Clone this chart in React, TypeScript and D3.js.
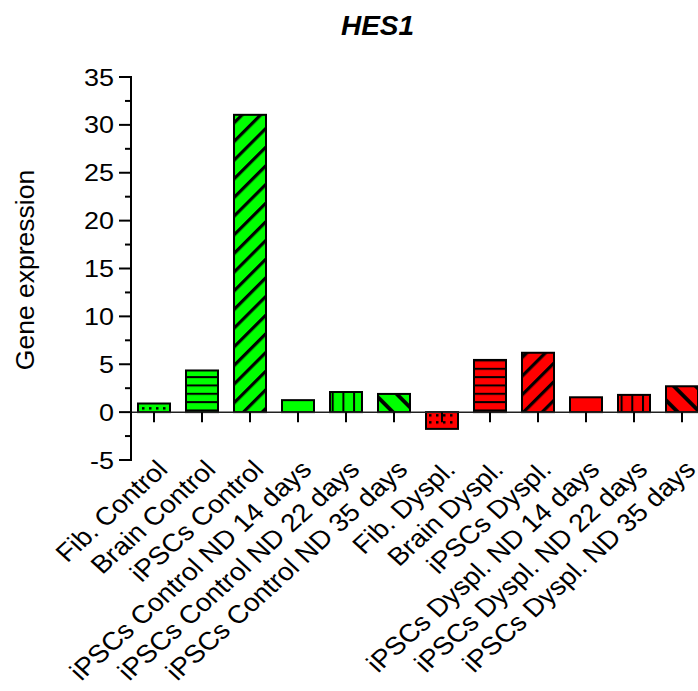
import React from "react";
import * as d3 from "d3";

const categories = [
  "Fib. Control",
  "Brain Control",
  "iPSCs Control",
  "iPSCs Control ND 14 days",
  "iPSCs Control ND 22 days",
  "iPSCs Control ND 35 days",
  "Fib. Dyspl.",
  "Brain Dyspl.",
  "iPSCs Dyspl.",
  "iPSCs Dyspl. ND 14 days",
  "iPSCs Dyspl. ND 22 days",
  "iPSCs Dyspl. ND 35 days",
];
const values = [0.9, 4.35, 31.05, 1.25, 2.1, 1.9, -1.75, 5.45, 6.2, 1.55, 1.8, 2.7];
const groups = ["control", "control", "control", "control", "control", "control", "dyspl", "dyspl", "dyspl", "dyspl", "dyspl", "dyspl"];
const patternKinds = ["dots", "hlines", "diagUp", "none", "vlines", "diagDown", "dots", "hlines", "diagUp", "none", "vlines", "diagDown"];
const majorTicks = [-5, 0, 5, 10, 15, 20, 25, 30, 35];
const minorTicks = [-2.5, 2.5, 7.5, 12.5, 17.5, 22.5, 27.5, 32.5];
const title = "HES1";
const yLabel = "Gene expression";

const groupColor: Record<string, string> = { control: "#00FF00", dyspl: "#FF0000" };
const FONT = "'Liberation Sans', Arial, Helvetica, sans-serif";
const SX = 1.1;

export default function App() {
  const x = d3.scaleBand<string>().domain(categories).range([130, 706]).paddingInner(1 / 3).paddingOuter(1 / 6);
  const y = d3.scaleLinear().domain([-5, 35]).range([460, 77]);
  const y0 = y(0);
  const axisX = 131;

  return (
    <svg width={698} height={691} style={{ position: "absolute", left: 0, top: 0, background: "#fff" }} fontFamily={FONT}>
      <defs>
        <pattern id="p-dots" patternUnits="userSpaceOnUse" width={7} height={7} x={0} y={y0}>
          <rect x={2} y={2} width={2.5} height={2.5} fill="#000" />
        </pattern>
        <pattern id="p-hlines" patternUnits="userSpaceOnUse" width={10} height={8.33} x={0} y={y0 - 11}>
          <rect x={0} y={0} width={10} height={2} fill="#000" />
        </pattern>
        <pattern id="p-vlines" patternUnits="userSpaceOnUse" width={10.7} height={10} x={0} y={0}>
          <rect x={0} y={0} width={2} height={10} fill="#000" />
        </pattern>
        <pattern id="p-diagUp" patternUnits="userSpaceOnUse" width={13.2} height={10} patternTransform="rotate(45)">
          <rect x={0} y={0} width={3.2} height={10} fill="#000" />
        </pattern>
        <pattern id="p-diagDown" patternUnits="userSpaceOnUse" width={15.5} height={10} patternTransform="rotate(-45)">
          <rect x={0} y={0} width={3.8} height={10} fill="#000" />
        </pattern>
      </defs>

      {/* title */}
      <text x={377.5} y={35} textAnchor="middle" fontSize={28} fontWeight="bold" fontStyle="italic">
        {title}
      </text>

      {/* y label */}
      <text transform={`translate(34,270) scale(1,1.04) rotate(-90)`} textAnchor="middle" fontSize={25.5}>
        {yLabel}
      </text>

      {/* bars */}
      {categories.map((c, i) => {
        const v = values[i];
        const bx = x(c)!;
        const bw = x.bandwidth();
        const top = Math.min(y(v), y0);
        const h = Math.abs(y(v) - y0);
        const kind = patternKinds[i];
        return (
          <g key={c}>
            <rect x={bx} y={top} width={bw} height={h} fill={groupColor[groups[i]]} />
            {kind !== "none" && (
              <rect x={bx} y={top} width={bw} height={h} fill={`url(#p-${kind})`} />
            )}
            <rect x={bx} y={top} width={bw} height={h} fill="none" stroke="#000" strokeWidth={2} />
          </g>
        );
      })}

      {/* x axis */}
      <line x1={axisX} x2={698} y1={y0} y2={y0} stroke="#222" strokeWidth={1.5} />
      {categories.map((c) => {
        const cx = x(c)! + x.bandwidth() / 2;
        return <line key={c} x1={cx} x2={cx} y1={y0} y2={y0 + 10} stroke="#000" strokeWidth={2} />;
      })}
      {categories.map((c) => {
        const cx = x(c)! + x.bandwidth() / 2;
        return (
          <text key={c} transform={`translate(${cx + 15},471) scale(${SX},1) rotate(-45)`} textAnchor="end" fontSize={25.3}>
            {c}
          </text>
        );
      })}

      {/* y axis */}
      <line x1={axisX} x2={axisX} y1={y(35) - 1} y2={y(-5) + 1} stroke="#000" strokeWidth={2} />
      {majorTicks.map((t) => (
        <g key={t}>
          <line x1={axisX - 12} x2={axisX} y1={y(t)} y2={y(t)} stroke="#000" strokeWidth={2} />
          <text transform={`translate(${axisX - 17},${y(t)}) scale(${SX},1)`} dy="0.35em" textAnchor="end" fontSize={24.5}>
            {t}
          </text>
        </g>
      ))}
      {minorTicks.map((t) => (
        <line key={t} x1={axisX - 6} x2={axisX} y1={y(t)} y2={y(t)} stroke="#000" strokeWidth={2} />
      ))}
    </svg>
  );
}
